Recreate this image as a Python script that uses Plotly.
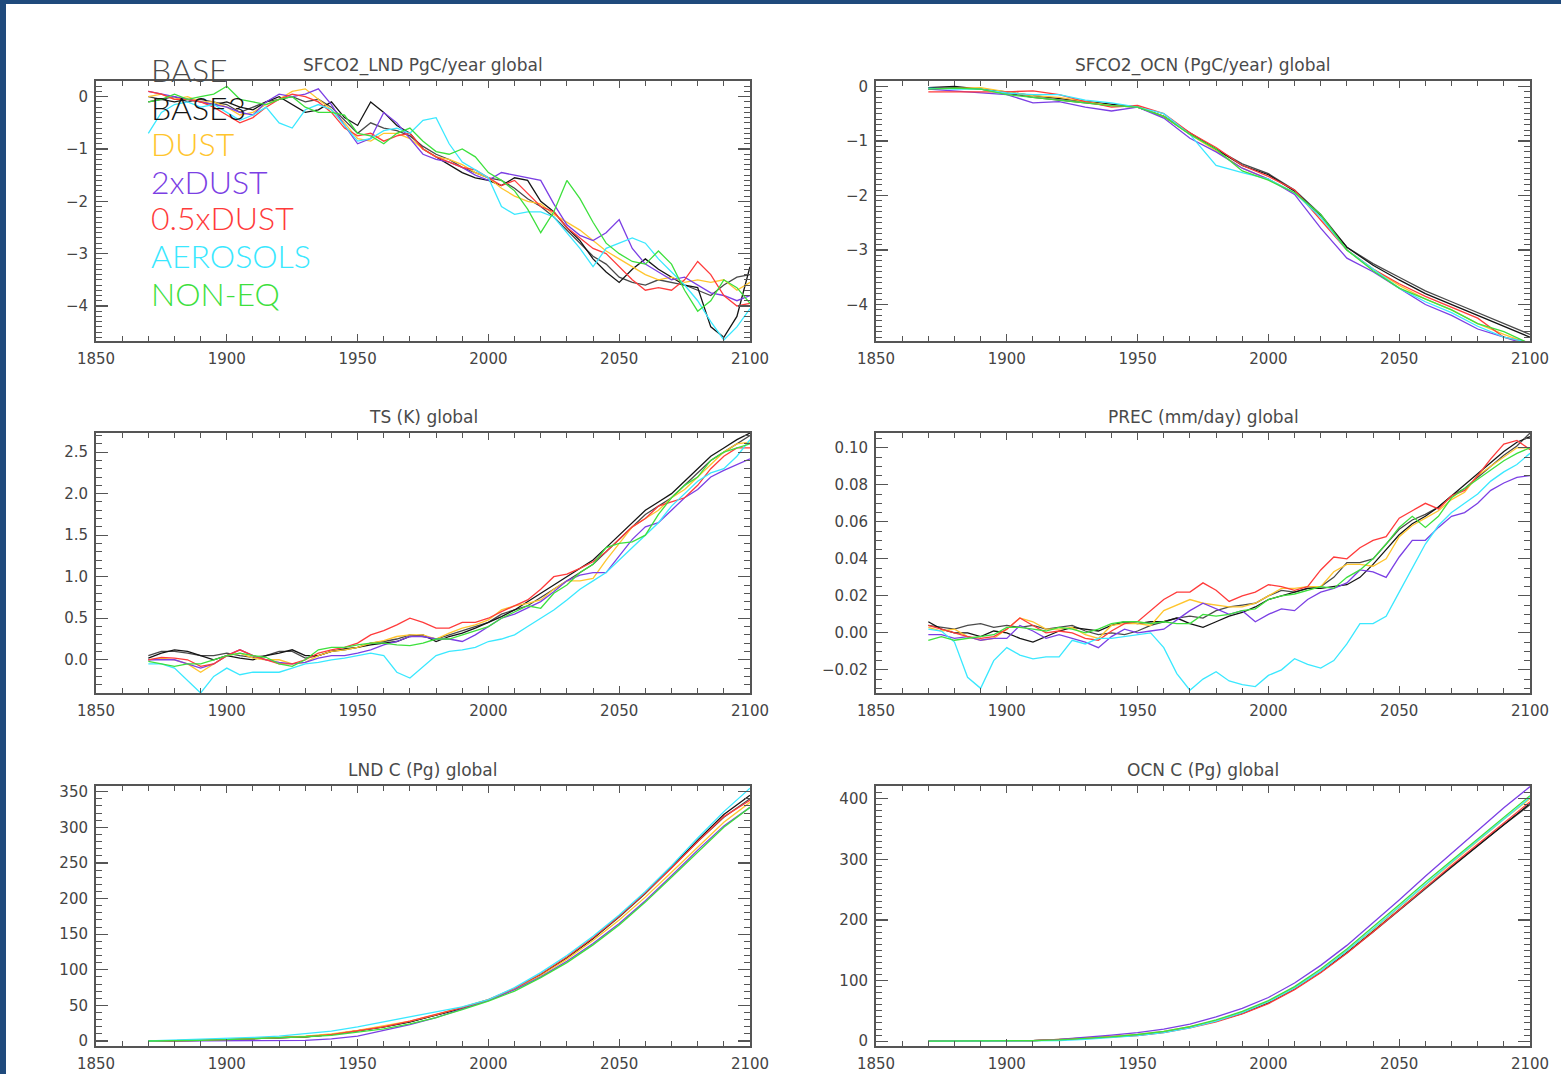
import plotly.graph_objects as go

# ---------------- data ----------------
series_names = ["BASE", "BASE3", "DUST", "2xDUST", "0.5xDUST", "AEROSOLS", "NON-EQ"]
series_colors = ["#4a4a4a", "#151515", "#ffc52e", "#7b3fe4", "#ff3b3b", "#3ae8ff", "#3de03d"]

years5 = list(range(1870, 2101, 5))
years10 = list(range(1870, 2101, 10))

# SFCO2_LND (PgC/year), 5-year samples
lnd_flux = {
    "BASE": [0.0, -0.05, 0.0, -0.1, -0.05, -0.1, -0.15, -0.3, -0.2, -0.1, -0.05, 0.0, -0.1, -0.05, -0.2, -0.45, -0.7, -0.5, -0.6, -0.65, -0.75, -0.95, -1.1, -1.2, -1.35, -1.45, -1.55, -1.6, -1.75, -1.95, -2.1, -2.3, -2.55, -2.8, -3.05, -3.2, -3.45, -3.55, -3.6, -3.5, -3.55, -3.6, -3.7, -3.8, -3.6, -3.45, -3.4],
    "BASE3": [-0.1, -0.05, -0.1, -0.05, -0.1, -0.15, -0.1, -0.2, -0.25, -0.1, 0.0, -0.15, -0.3, -0.25, -0.1, -0.4, -0.55, -0.1, -0.3, -0.55, -0.7, -1.0, -1.15, -1.3, -1.45, -1.55, -1.6, -1.7, -1.55, -1.6, -2.0, -2.2, -2.5, -2.75, -3.1, -3.35, -3.55, -3.3, -3.1, -3.3, -3.45, -3.6, -3.65, -4.4, -4.6, -4.2, -3.25],
    "DUST": [0.0, 0.05, -0.05, 0.0, -0.1, -0.1, -0.2, -0.35, -0.3, -0.15, -0.05, 0.1, 0.15, -0.05, -0.25, -0.5, -0.8, -0.85, -0.7, -0.7, -0.8, -1.0, -1.15, -1.2, -1.3, -1.45, -1.55, -1.75, -1.9, -2.0, -2.05, -2.25, -2.4, -2.55, -2.75, -2.95, -3.1, -3.25, -3.4, -3.5, -3.45, -3.55, -3.5, -3.55, -3.5, -3.7, -3.55],
    "2xDUST": [0.1, 0.05, 0.0, -0.05, -0.1, -0.15, -0.2, -0.3, -0.35, -0.1, 0.05, 0.0, 0.05, 0.15, -0.15, -0.55, -0.9, -0.8, -0.3, -0.5, -0.8, -1.1, -1.2, -1.25, -1.35, -1.5, -1.6, -1.45, -1.5, -1.55, -1.6, -2.05, -2.45, -2.65, -2.75, -2.6, -2.35, -2.9, -3.2, -3.35, -3.5, -3.45, -3.6, -3.75, -3.8, -3.9, -3.8],
    "0.5xDUST": [0.1, 0.05, -0.05, -0.05, -0.1, -0.2, -0.35, -0.5, -0.4, -0.2, -0.05, 0.05, 0.0, -0.1, -0.3, -0.6, -0.75, -0.7, -0.85, -0.75, -0.7, -1.0, -1.15, -1.25, -1.35, -1.4, -1.55, -1.7, -1.6, -1.85, -2.1, -2.2, -2.5, -2.7, -2.9, -3.0, -3.25, -3.5, -3.7, -3.65, -3.7, -3.5, -3.15, -3.4, -3.8, -4.0, -3.95],
    "AEROSOLS": [-0.7, -0.3, -0.15, -0.1, -0.2, -0.15, -0.3, -0.45, -0.35, -0.2, -0.5, -0.6, -0.25, -0.15, -0.25, -0.55, -0.85, -0.8, -0.65, -0.6, -0.7, -0.45, -0.4, -0.9, -1.25, -1.4, -1.55, -2.1, -2.25, -2.2, -2.2, -2.3, -2.6, -2.9, -3.25, -2.9, -2.8, -2.7, -2.8, -3.1, -3.35, -3.6, -3.9, -4.3, -4.65, -4.4, -4.05],
    "NON-EQ": [-0.1, -0.05, 0.05, -0.05, 0.0, 0.05, 0.2, -0.05, -0.1, -0.15, -0.05, 0.0, -0.2, -0.3, -0.3, -0.35, -0.7, -0.75, -0.9, -0.7, -0.6, -0.85, -1.05, -1.1, -1.0, -1.15, -1.45, -1.6, -1.8, -2.15, -2.6, -2.2, -1.6, -1.95, -2.4, -2.8, -3.0, -3.15, -3.2, -2.95, -3.2, -3.7, -4.1, -3.9, -3.5, -3.65, -3.95],
}

# SFCO2_OCN (PgC/year), 10-year samples
ocn_flux = {
    "BASE": [-0.05, -0.02, -0.05, -0.12, -0.2, -0.25, -0.3, -0.35, -0.38, -0.55, -0.85, -1.15, -1.42, -1.6, -1.9, -2.35, -2.95, -3.25, -3.5, -3.75, -3.95, -4.15, -4.35, -4.55],
    "BASE3": [-0.02, 0.0, -0.05, -0.1, -0.17, -0.22, -0.28, -0.33, -0.38, -0.55, -0.87, -1.15, -1.45, -1.62, -1.92, -2.38, -2.95, -3.28, -3.55, -3.8, -4.0, -4.2, -4.4, -4.6],
    "DUST": [-0.05, -0.03, -0.02, -0.1, -0.17, -0.2, -0.28, -0.35, -0.38, -0.55, -0.88, -1.18, -1.5, -1.7, -1.95, -2.4, -3.0, -3.35, -3.65, -3.9, -4.1, -4.35, -4.55, -4.72],
    "2xDUST": [-0.05, -0.08, -0.12, -0.15, -0.3, -0.28, -0.38, -0.45, -0.38, -0.58, -0.95, -1.2, -1.5, -1.7, -1.98, -2.6, -3.15, -3.4, -3.7, -4.0, -4.2, -4.45, -4.6, -4.75],
    "0.5xDUST": [-0.1, -0.1, -0.1, -0.1, -0.08, -0.15, -0.28, -0.38, -0.35, -0.5, -0.85, -1.12, -1.45, -1.65, -1.9, -2.45, -3.0, -3.35, -3.62, -3.85, -4.05, -4.25, -4.6, -4.7],
    "AEROSOLS": [-0.03, -0.05, -0.05, -0.12, -0.15, -0.15, -0.25, -0.3, -0.38, -0.5, -0.88, -1.45, -1.58, -1.7, -1.95, -2.4, -3.0, -3.35, -3.7, -3.95, -4.15, -4.4, -4.6, -4.7],
    "NON-EQ": [-0.05, -0.03, -0.05, -0.15, -0.2, -0.25, -0.3, -0.35, -0.38, -0.55, -0.88, -1.15, -1.55, -1.72, -1.95, -2.35, -3.0, -3.38, -3.7, -3.9, -4.1, -4.35, -4.5, -4.72],
}

# TS (K), 5-year samples
ts = {
    "BASE": [0.05, 0.1, 0.1, 0.08, 0.05, 0.05, 0.08, 0.05, 0.03, 0.05, 0.1, 0.1, 0.02, 0.05, 0.1, 0.12, 0.15, 0.2, 0.22, 0.25, 0.3, 0.28, 0.25, 0.3, 0.35, 0.4, 0.45, 0.55, 0.6, 0.65, 0.75, 0.85, 0.95, 1.05, 1.15, 1.3, 1.45, 1.6, 1.75, 1.85, 1.95, 2.1, 2.25, 2.4, 2.5, 2.6, 2.7],
    "BASE3": [0.02, 0.08, 0.12, 0.1, 0.05, 0.0, 0.05, 0.02, 0.0, 0.05, 0.08, 0.12, 0.05, 0.05, 0.1, 0.13, 0.15, 0.18, 0.2, 0.22, 0.28, 0.3, 0.22, 0.28, 0.32, 0.38, 0.45, 0.52, 0.6, 0.7, 0.8, 0.9, 1.0, 1.1, 1.2, 1.35, 1.5, 1.65, 1.8, 1.9, 2.0, 2.15, 2.3, 2.45, 2.55, 2.65, 2.73],
    "DUST": [0.0, 0.02, 0.0, -0.05, -0.15, -0.05, 0.05, 0.08, 0.02, 0.0, 0.0, -0.05, -0.03, 0.05, 0.1, 0.12, 0.15, 0.2, 0.23, 0.28, 0.3, 0.3, 0.25, 0.32, 0.38, 0.42, 0.48, 0.6, 0.65, 0.68, 0.72, 0.85, 0.95, 0.95, 0.98, 1.2, 1.4, 1.6, 1.7, 1.8, 1.95, 2.05, 2.2, 2.35, 2.5, 2.6, 2.62],
    "2xDUST": [0.0, 0.0, 0.0, -0.05, -0.1, -0.05, 0.05, 0.12, 0.05, 0.0, -0.03, -0.05, -0.03, 0.02, 0.05, 0.05, 0.08, 0.12, 0.18, 0.22, 0.28, 0.28, 0.25, 0.25, 0.22, 0.3, 0.4, 0.5, 0.55, 0.62, 0.7, 0.82, 0.95, 1.02, 1.05, 1.05, 1.25, 1.45, 1.6, 1.65, 1.8, 1.95, 2.05, 2.2, 2.28, 2.35, 2.42],
    "0.5xDUST": [0.0, 0.03, 0.02, 0.0, -0.08, -0.05, 0.05, 0.12, 0.05, 0.0, -0.05, -0.05, 0.0, 0.08, 0.12, 0.15, 0.2, 0.3, 0.35, 0.42, 0.5, 0.45, 0.38, 0.38, 0.45, 0.45, 0.5, 0.58, 0.65, 0.72, 0.85, 1.0, 1.03, 1.1, 1.18, 1.3, 1.45, 1.6, 1.7, 1.85, 1.9, 1.95, 2.1, 2.3, 2.45, 2.55, 2.55],
    "AEROSOLS": [-0.05, -0.05, -0.1, -0.25, -0.4, -0.2, -0.1, -0.18, -0.15, -0.15, -0.15, -0.1, -0.05, -0.03, 0.0, 0.02, 0.05, 0.08, 0.05, -0.15, -0.22, -0.08, 0.05, 0.1, 0.12, 0.15, 0.22, 0.25, 0.3, 0.4, 0.5, 0.6, 0.72, 0.85, 0.95, 1.05, 1.2, 1.35, 1.5, 1.65, 1.85, 2.0, 2.15, 2.25, 2.3, 2.45, 2.65],
    "NON-EQ": [-0.02, -0.05, -0.08, -0.05, -0.05, 0.0, 0.05, 0.08, 0.05, 0.03, -0.05, -0.08, 0.0, 0.12, 0.15, 0.15, 0.18, 0.2, 0.2, 0.18, 0.17, 0.2, 0.25, 0.25, 0.3, 0.35, 0.4, 0.5, 0.58, 0.65, 0.62, 0.8, 0.9, 1.05, 1.15, 1.35, 1.4, 1.42, 1.5, 1.75, 1.95, 2.1, 2.2, 2.4, 2.5, 2.55, 2.6],
}

# PREC (mm/day), 5-year samples
prec = {
    "BASE": [0.004, 0.003, 0.002, 0.004, 0.005, 0.003, 0.004, 0.003, 0.004, 0.002, 0.003, 0.004, 0.001, -0.001, 0.0, -0.001, 0.001, 0.004, 0.006, 0.008, 0.009, 0.008, 0.012, 0.014, 0.015, 0.016, 0.02, 0.023, 0.022, 0.024, 0.025, 0.03, 0.038, 0.038, 0.04, 0.048, 0.056, 0.061, 0.064, 0.068, 0.074, 0.078, 0.084, 0.09, 0.096, 0.101, 0.108],
    "BASE3": [0.006, 0.002, 0.0, 0.0, -0.002, 0.001, 0.0, -0.003, -0.005, -0.002, 0.001, 0.003, 0.002, 0.001, 0.004, 0.006, 0.005, 0.006, 0.006, 0.008, 0.005, 0.003, 0.006, 0.009, 0.011, 0.014, 0.018, 0.02, 0.022, 0.024, 0.024, 0.025, 0.026, 0.03, 0.037, 0.045, 0.053, 0.059, 0.063, 0.068, 0.074, 0.08, 0.086, 0.092, 0.098, 0.103, 0.106],
    "DUST": [0.003, 0.001, 0.002, -0.002, -0.004, -0.003, 0.002, 0.008, 0.006, 0.002, 0.002, 0.003, -0.001, -0.003, 0.004, 0.005, 0.005, 0.004, 0.012, 0.015, 0.018, 0.016, 0.015, 0.014, 0.014, 0.016, 0.02, 0.024, 0.024, 0.025, 0.025, 0.033, 0.037, 0.037, 0.036, 0.04, 0.052, 0.058, 0.062, 0.066, 0.072, 0.076, 0.085, 0.09, 0.095, 0.1, 0.1],
    "2xDUST": [-0.001, -0.001, -0.003, -0.002, -0.004, -0.003, -0.003, 0.004, 0.001, -0.003, -0.001, -0.003, -0.005, -0.008, -0.002, 0.002, 0.0, 0.001, 0.002, 0.007, 0.012, 0.016, 0.013, 0.01, 0.012, 0.006, 0.01, 0.013, 0.012, 0.018, 0.022, 0.024, 0.027, 0.034, 0.033, 0.03, 0.041, 0.05, 0.05, 0.057, 0.063, 0.065, 0.07, 0.077, 0.081, 0.084, 0.085],
    "0.5xDUST": [0.004, 0.002, 0.0, -0.002, -0.003, -0.002, 0.002, 0.008, 0.004, 0.0, 0.001, 0.0, -0.003, -0.004, 0.001, 0.005, 0.006, 0.012, 0.018, 0.022, 0.022, 0.027, 0.023, 0.017, 0.02, 0.022, 0.026, 0.025, 0.023, 0.025, 0.034, 0.041, 0.04, 0.046, 0.05, 0.052, 0.062, 0.066, 0.07, 0.067, 0.074, 0.077, 0.085, 0.094, 0.102, 0.104, 0.099],
    "AEROSOLS": [0.002, 0.001, -0.005, -0.024, -0.03, -0.015, -0.008, -0.012, -0.014, -0.013, -0.013, -0.004, -0.006, -0.003, -0.003, -0.002, -0.001, 0.0, -0.008, -0.022, -0.031, -0.025, -0.021, -0.026, -0.028, -0.029, -0.023, -0.02, -0.014, -0.017, -0.019, -0.015, -0.006, 0.005, 0.005, 0.009, 0.022, 0.035, 0.048, 0.058, 0.065, 0.07, 0.075, 0.082, 0.087, 0.091, 0.097],
    "NON-EQ": [-0.004, -0.002, -0.004, -0.003, -0.002, -0.001, 0.003, 0.003, 0.002, 0.001, 0.003, 0.002, 0.0, 0.002, 0.005, 0.006, 0.006, 0.005, 0.006, 0.005, 0.005, 0.01, 0.009, 0.01, 0.012, 0.013, 0.018, 0.02, 0.021, 0.023, 0.025, 0.024, 0.03, 0.034, 0.04, 0.048, 0.057, 0.063, 0.057, 0.063, 0.073, 0.078, 0.083, 0.088, 0.093, 0.097, 0.1],
}

# LND C (Pg), 10-year samples
lnd_c = {
    "BASE": [0, 0, 1, 2, 3, 4, 6, 9, 14, 20, 27, 36, 46, 57, 73, 93, 117, 144, 174, 207, 243, 280, 314, 340],
    "BASE3": [0, 0, 1, 2, 3, 4, 6, 9, 14, 20, 27, 36, 46, 57, 73, 93, 117, 144, 175, 208, 244, 282, 318, 345],
    "DUST": [0, 0, 1, 2, 3, 5, 7, 10, 15, 21, 28, 37, 47, 58, 73, 92, 115, 141, 170, 202, 237, 272, 307, 335],
    "2xDUST": [0, 0, 0, 0, 0, 0, 1, 3, 7, 15, 23, 33, 45, 57, 72, 90, 112, 137, 165, 197, 232, 268, 302, 328],
    "0.5xDUST": [0, 0, 1, 2, 3, 4, 6, 9, 14, 20, 28, 37, 47, 58, 74, 94, 118, 145, 175, 208, 243, 280, 315, 338],
    "AEROSOLS": [0, 1, 2, 3, 5, 7, 10, 14, 20, 27, 33, 40, 48, 58, 75, 96, 120, 147, 177, 210, 246, 285, 322, 355],
    "NON-EQ": [0, 0, 1, 2, 3, 4, 6, 8, 12, 17, 24, 33, 44, 56, 70, 89, 110, 135, 163, 195, 230, 265, 300, 328],
}

# OCN C (Pg), 10-year samples
ocn_c = {
    "BASE": [0, 0, 0, 0, 1, 3, 5, 7, 10, 15, 23, 33, 46, 63, 86, 114, 146, 180, 216, 252, 287, 322, 357, 390],
    "BASE3": [0, 0, 0, 0, 1, 2, 4, 7, 10, 15, 23, 33, 46, 63, 86, 114, 146, 181, 217, 253, 288, 323, 358, 392],
    "DUST": [0, 0, 0, 0, 1, 3, 5, 8, 11, 16, 24, 34, 48, 65, 88, 116, 149, 184, 221, 258, 294, 330, 366, 400],
    "2xDUST": [0, 0, 0, 0, 1, 3, 6, 10, 14, 20, 28, 40, 54, 72, 96, 125, 158, 195, 233, 272, 310, 348, 385, 420],
    "0.5xDUST": [0, 0, 0, 1, 1, 2, 4, 6, 9, 14, 22, 32, 45, 62, 85, 113, 145, 180, 217, 254, 290, 325, 360, 395],
    "AEROSOLS": [0, 0, 0, 0, 0, 1, 3, 6, 9, 14, 22, 33, 47, 65, 88, 116, 149, 185, 222, 259, 295, 331, 367, 402],
    "NON-EQ": [0, 0, 0, 0, 1, 2, 4, 7, 11, 16, 24, 35, 49, 67, 90, 119, 152, 188, 225, 262, 298, 334, 370, 405],
}

panel_titles = ["SFCO2_LND PgC/year global", "SFCO2_OCN (PgC/year) global",
                "TS (K) global", "PREC (mm/day) global",
                "LND C (Pg) global", "OCN C (Pg) global"]
panel_data = [(years5, lnd_flux), (years10, ocn_flux), (years5, ts),
              (years5, prec), (years10, lnd_c), (years10, ocn_c)]
y_ranges = [[-4.67, 0.3], [-4.67, 0.1], [-0.40, 2.73], [-0.0325, 0.108], [-7, 358], [-8, 421]]
y_dticks = [1, 1, 0.5, 0.02, 50, 100]
y_minor = [0.1, 0.1, 0.1, 0.005, 10, 10]
y_formats = ["d", "d", ".1f", ".2f", "d", "d"]

# ---------------- layout geometry (pixels) ----------------
W, H = 1561, 1074
col_px = [(96, 750), (876, 1530)]
row_px = [(81, 341), (433, 693), (786, 1046)]

fig = go.Figure()

axis_color = "#555555"
tick_font = dict(family="DejaVu Sans", size=15, color="#444444")

for i in range(6):
    r, c = divmod(i, 2)
    xs, data = panel_data[i]
    xa = "x" if i == 0 else f"x{i+1}"
    ya = "y" if i == 0 else f"y{i+1}"
    for name, col in zip(series_names, series_colors):
        fig.add_trace(go.Scatter(x=xs, y=data[name], mode="lines", name=name,
                                 line=dict(color=col, width=1.3),
                                 xaxis=xa, yaxis=ya, showlegend=False,
                                 cliponaxis=True, hoverinfo="skip"))
    x0, x1 = col_px[c]
    t0, t1 = row_px[r]
    xkey = "xaxis" if i == 0 else f"xaxis{i+1}"
    ykey = "yaxis" if i == 0 else f"yaxis{i+1}"
    fig.layout[xkey] = dict(
        domain=[x0 / W, x1 / W], range=[1850, 2100], anchor=ya,
        tickmode="linear", tick0=1850, dtick=50,
        ticks="inside", ticklen=7, tickwidth=1.2, tickcolor=axis_color,
        minor=dict(dtick=10, tick0=1850, ticks="inside", ticklen=5, tickcolor=axis_color, tickwidth=1),
        showline=True, linecolor=axis_color, linewidth=2, mirror="allticks",
        showgrid=False, zeroline=False, tickfont=tick_font, ticklabelstandoff=3,
        automargin=False, fixedrange=True,
    )
    fig.layout[ykey] = dict(
        domain=[1 - t1 / H, 1 - t0 / H], range=y_ranges[i], anchor=xa,
        tickmode="linear", tick0=0, dtick=y_dticks[i], tickformat=y_formats[i],
        ticks="inside", ticklen=12, tickwidth=1.2, tickcolor=axis_color,
        minor=dict(dtick=y_minor[i], tick0=0, ticks="inside", ticklen=6, tickcolor=axis_color, tickwidth=1),
        showline=True, linecolor=axis_color, linewidth=2, mirror="allticks",
        showgrid=False, zeroline=False, tickfont=tick_font, ticklabelstandoff=3,
        automargin=False, fixedrange=True,
    )
    fig.add_annotation(text=panel_titles[i], x=(x0 + x1) / 2 / W, y=1 - (t0 - 16) / H,
                       xref="paper", yref="paper", showarrow=False,
                       xanchor="center", yanchor="middle",
                       font=dict(family="DejaVu Sans", size=17, color="#4a4a4a"))

# legend as text labels inside the first panel
legend_y_px = [70, 107, 144, 181, 218, 255, 293]
for name, col, ypx in zip(series_names, series_colors, legend_y_px):
    fig.add_annotation(text=name, x=149 / W, y=1 - ypx / H, xref="paper", yref="paper",
                       showarrow=False, xanchor="left", yanchor="middle",
                       font=dict(family="Lato", size=32, color=col, weight=300))

# blue frame: paper background blue, white sheet inset
fig.add_shape(type="rect", xref="paper", yref="paper", x0=6 / W, x1=1.0, y0=0, y1=1 - 4 / H,
              fillcolor="white", line=dict(width=0), layer="below")

fig.update_layout(width=W, height=H, margin=dict(l=0, r=0, t=0, b=0),
                  paper_bgcolor="#1f4a7c", plot_bgcolor="rgba(0,0,0,0)",
                  showlegend=False, hovermode=False)

fig.write_html("out.html", config={"displayModeBar": False, "staticPlot": True},
               post_script="document.body.style.margin='0';document.body.style.padding='0';")
